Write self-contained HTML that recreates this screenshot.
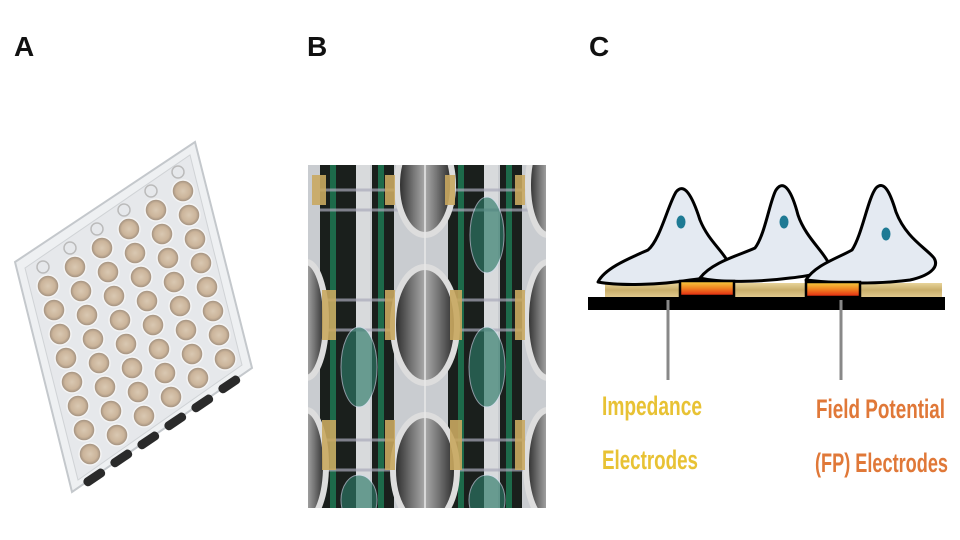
<!DOCTYPE html>
<html><head><meta charset="utf-8"><style>
body{margin:0;background:#fff;width:960px;height:540px;overflow:hidden}
svg{display:block}
</style></head><body>
<svg width="960" height="540" viewBox="0 0 960 540" xmlns="http://www.w3.org/2000/svg">
<defs>
<linearGradient id="el" x1="0" y1="0" x2="0" y2="1"><stop offset="0" stop-color="#f7d040"/><stop offset="0.5" stop-color="#f08020"/><stop offset="1" stop-color="#e02010"/></linearGradient>
<linearGradient id="tan" x1="0" y1="0" x2="0" y2="1"><stop offset="0" stop-color="#e8d49a"/><stop offset="0.5" stop-color="#c9ae6a"/><stop offset="1" stop-color="#e0c88c"/></linearGradient>
<radialGradient id="well" cx="0.5" cy="0.5" r="0.5"><stop offset="0" stop-color="#d9c8b2"/><stop offset="0.65" stop-color="#cbb49a"/><stop offset="1" stop-color="#9a8a7a"/></radialGradient>
<linearGradient id="oval" x1="0" y1="0" x2="1" y2="0"><stop offset="0" stop-color="#222"/><stop offset="0.3" stop-color="#777"/><stop offset="0.5" stop-color="#aaa"/><stop offset="0.7" stop-color="#777"/><stop offset="1" stop-color="#222"/></linearGradient>
<clipPath id="cb"><rect x="308" y="165" width="238" height="343"/></clipPath>
</defs>
<g font-family="Liberation Sans Narrow, Liberation Sans, sans-serif" font-weight="bold" font-size="28" fill="#111">
<text x="14" y="56">A</text>
<text x="307" y="56">B</text>
<text x="589" y="56">C</text>
</g>

<!-- Panel A: plate -->
<polygon points="15,262 195,142 252,368 72,492" fill="#eef0f2" stroke="#c4c8cc" stroke-width="2"/>
<polygon points="25,268 190,155 242,365 78,480" fill="#e6e8eb" stroke="#d0d3d6"/>
<g fill="url(#well)" stroke="#f4f4f4" stroke-width="1.5">
<circle cx="48" cy="286" r="11"/><circle cx="75" cy="267" r="11"/><circle cx="102" cy="248" r="11"/><circle cx="129" cy="229" r="11"/><circle cx="156" cy="210" r="11"/><circle cx="183" cy="191" r="11"/>
<circle cx="54" cy="310" r="11"/><circle cx="81" cy="291" r="11"/><circle cx="108" cy="272" r="11"/><circle cx="135" cy="253" r="11"/><circle cx="162" cy="234" r="11"/><circle cx="189" cy="215" r="11"/>
<circle cx="60" cy="334" r="11"/><circle cx="87" cy="315" r="11"/><circle cx="114" cy="296" r="11"/><circle cx="141" cy="277" r="11"/><circle cx="168" cy="258" r="11"/><circle cx="195" cy="239" r="11"/>
<circle cx="66" cy="358" r="11"/><circle cx="93" cy="339" r="11"/><circle cx="120" cy="320" r="11"/><circle cx="147" cy="301" r="11"/><circle cx="174" cy="282" r="11"/><circle cx="201" cy="263" r="11"/>
<circle cx="72" cy="382" r="11"/><circle cx="99" cy="363" r="11"/><circle cx="126" cy="344" r="11"/><circle cx="153" cy="325" r="11"/><circle cx="180" cy="306" r="11"/><circle cx="207" cy="287" r="11"/>
<circle cx="78" cy="406" r="11"/><circle cx="105" cy="387" r="11"/><circle cx="132" cy="368" r="11"/><circle cx="159" cy="349" r="11"/><circle cx="186" cy="330" r="11"/><circle cx="213" cy="311" r="11"/>
<circle cx="84" cy="430" r="11"/><circle cx="111" cy="411" r="11"/><circle cx="138" cy="392" r="11"/><circle cx="165" cy="373" r="11"/><circle cx="192" cy="354" r="11"/><circle cx="219" cy="335" r="11"/>
<circle cx="90" cy="454" r="11"/><circle cx="117" cy="435" r="11"/><circle cx="144" cy="416" r="11"/><circle cx="171" cy="397" r="11"/><circle cx="198" cy="378" r="11"/><circle cx="225" cy="359" r="11"/>
</g>
<g fill="none" stroke="#bbb" stroke-width="1.5">
<circle cx="43" cy="267" r="6"/><circle cx="70" cy="248" r="6"/><circle cx="97" cy="229" r="6"/><circle cx="124" cy="210" r="6"/><circle cx="151" cy="191" r="6"/><circle cx="178" cy="172" r="6"/>
</g>
<g fill="#2a2a2a">
<rect x="82" y="473" width="24" height="9" rx="4" transform="rotate(-34 94 477)"/>
<rect x="109" y="454" width="24" height="9" rx="4" transform="rotate(-34 121 458)"/>
<rect x="136" y="436" width="24" height="9" rx="4" transform="rotate(-34 148 440)"/>
<rect x="163" y="417" width="24" height="9" rx="4" transform="rotate(-34 175 421)"/>
<rect x="190" y="399" width="24" height="9" rx="4" transform="rotate(-34 202 403)"/>
<rect x="217" y="380" width="24" height="9" rx="4" transform="rotate(-34 229 384)"/>
</g>

<!-- Panel B -->
<g clip-path="url(#cb)">
<rect x="308" y="165" width="238" height="343" fill="#c9ccd0"/>
<g fill="#1a1f1c">
<rect x="320" y="165" width="36" height="343"/><rect x="372" y="165" width="22" height="343"/>
<rect x="448" y="165" width="36" height="343"/><rect x="500" y="165" width="22" height="343"/>
</g>
<g fill="#1d6a4a">
<rect x="330" y="165" width="6" height="343"/><rect x="378" y="165" width="6" height="343"/>
<rect x="458" y="165" width="6" height="343"/><rect x="506" y="165" width="6" height="343"/>
</g>
<g fill="#d8dadc">
<rect x="356" y="165" width="14" height="343"/><rect x="484" y="165" width="14" height="343"/>
</g>
<g stroke="#aab" stroke-width="3" opacity="0.7">
<line x1="320" y1="190" x2="546" y2="190"/><line x1="320" y1="210" x2="546" y2="210"/><line x1="320" y1="300" x2="546" y2="300"/><line x1="320" y1="330" x2="546" y2="330"/><line x1="320" y1="440" x2="546" y2="440"/><line x1="320" y1="470" x2="546" y2="470"/>
</g>
<g fill="url(#oval)" stroke="#ddd" stroke-width="6">
<ellipse cx="425" cy="185" rx="28" ry="50"/><ellipse cx="425" cy="325" rx="32" ry="58"/><ellipse cx="425" cy="470" rx="32" ry="55"/>
<ellipse cx="548" cy="185" rx="20" ry="50"/><ellipse cx="548" cy="320" rx="22" ry="58"/><ellipse cx="548" cy="465" rx="22" ry="55"/>
<ellipse cx="306" cy="320" rx="20" ry="58"/><ellipse cx="306" cy="465" rx="20" ry="55"/>
</g>
<g fill="#2d7a68" opacity="0.65" stroke="#cde" stroke-width="1">
<ellipse cx="359" cy="367" rx="18" ry="40"/><ellipse cx="487" cy="367" rx="18" ry="40"/>
<ellipse cx="487" cy="235" rx="17" ry="38"/><ellipse cx="359" cy="500" rx="18" ry="25"/><ellipse cx="487" cy="500" rx="18" ry="25"/>
</g>
<g fill="#c9a860" opacity="0.9">
<rect x="312" y="175" width="14" height="30"/><rect x="385" y="175" width="10" height="30"/><rect x="445" y="175" width="10" height="30"/><rect x="515" y="175" width="10" height="30"/>
<rect x="322" y="290" width="14" height="50"/><rect x="385" y="290" width="10" height="50"/><rect x="450" y="290" width="12" height="50"/><rect x="515" y="290" width="10" height="50"/>
<rect x="322" y="420" width="14" height="50"/><rect x="385" y="420" width="10" height="50"/><rect x="450" y="420" width="12" height="50"/><rect x="515" y="420" width="10" height="50"/>
</g>
<line x1="425" y1="165" x2="425" y2="508" stroke="#e8e8e8" stroke-width="1.5"/>
</g>

<!-- Panel C -->
<rect x="605" y="283" width="337" height="14" fill="url(#tan)"/>
<rect x="588" y="297" width="357" height="13" fill="#000"/>
<g fill="#e4eaf2" stroke="#000" stroke-width="3" stroke-linejoin="round">
<path d="M598,282 C605,268 630,258 648,250 C660,240 668,205 676,192 C684,182 692,195 700,220 C708,240 722,250 728,262 C732,272 710,278 690,280 C660,285 620,286 598,282 Z"/>
<path d="M700,278 C712,262 740,255 755,248 C765,235 770,200 776,190 C784,178 792,192 798,215 C805,236 822,250 828,262 C832,272 810,276 790,278 C760,282 720,283 700,278 Z"/>
<path d="M806,280 C815,265 838,258 852,250 C862,235 868,198 876,188 C884,180 890,192 896,212 C906,238 926,248 934,258 C940,268 928,276 910,280 C880,284 840,284 806,280 Z"/>
</g>
<g fill="#1e7a94">
<ellipse cx="681" cy="222" rx="4.5" ry="6.5"/><ellipse cx="784" cy="222" rx="4.5" ry="6.5"/><ellipse cx="886" cy="234" rx="4.5" ry="6.5"/>
</g>
<rect x="680" y="281" width="54" height="15" fill="url(#el)" stroke="#000" stroke-width="2.5"/>
<rect x="806" y="282" width="54" height="15" fill="url(#el)" stroke="#000" stroke-width="2.5"/>
<line x1="668" y1="300" x2="668" y2="380" stroke="#888" stroke-width="3"/>
<line x1="841" y1="300" x2="841" y2="380" stroke="#888" stroke-width="3"/>
<g font-family="Liberation Sans Narrow, Liberation Sans, sans-serif" font-weight="bold" font-size="27">
<text x="602" y="415" fill="#e8c234" textLength="100" lengthAdjust="spacingAndGlyphs">Impedance</text>
<text x="602" y="469" fill="#e8c234" textLength="96" lengthAdjust="spacingAndGlyphs">Electrodes</text>
<text x="816" y="418" fill="#e07838" textLength="129" lengthAdjust="spacingAndGlyphs">Field Potential</text>
<text x="815" y="472" fill="#e07838" textLength="133" lengthAdjust="spacingAndGlyphs">(FP) Electrodes</text>
</g>
</svg>
</body></html>
